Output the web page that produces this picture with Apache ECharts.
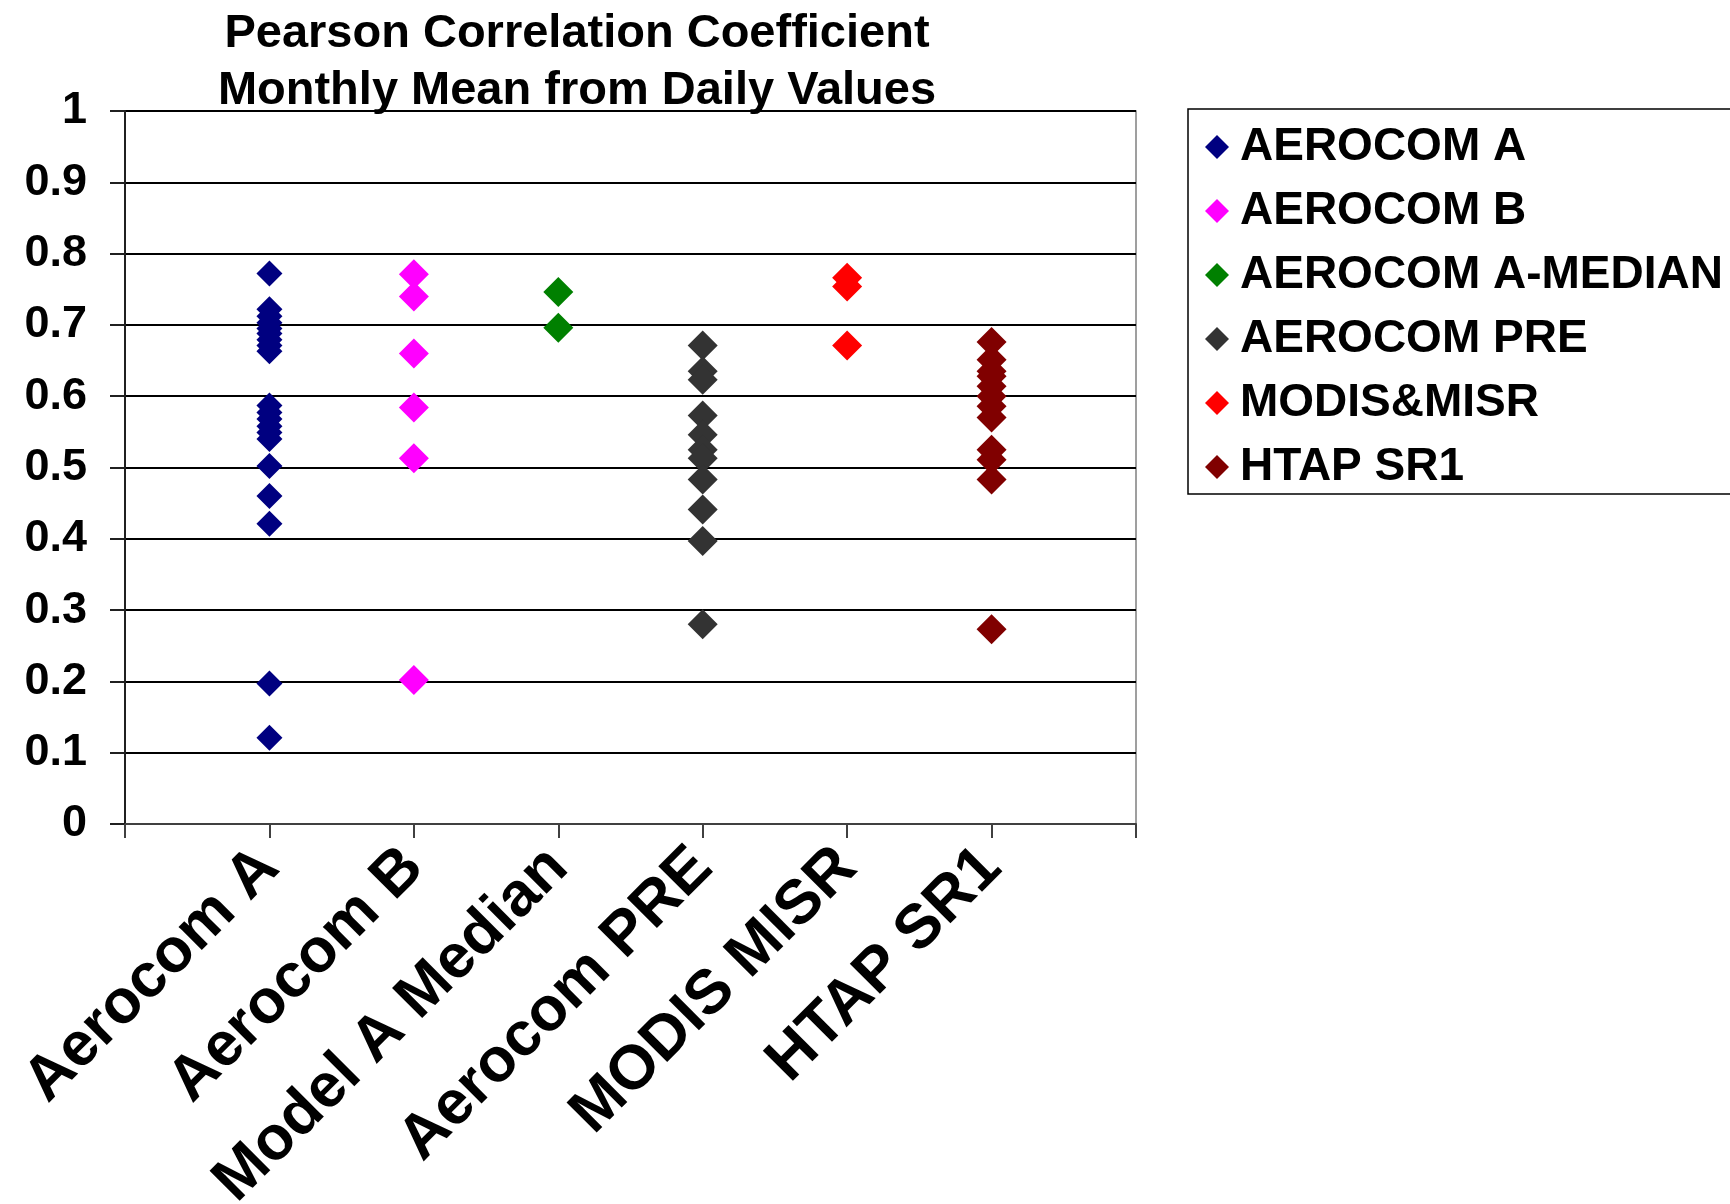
<!DOCTYPE html>
<html>
<head>
<meta charset="utf-8">
<script src="https://cdn.jsdelivr.net/npm/echarts@6/dist/echarts.min.js"></script>
<style>
html,body{margin:0;padding:0;background:#fff;}
#chart{width:1730px;height:1204px;}
</style>
</head>
<body>
<div id="chart"></div>
<script>
// categories on the x axis (placed at positions 1..6)
var categories = ['Aerocom A', 'Aerocom B', 'Model A Median', 'Aerocom PRE', 'MODIS MISR', 'HTAP SR1'];
// legend / series names
var seriesNames = ['AEROCOM A', 'AEROCOM B', 'AEROCOM A-MEDIAN', 'AEROCOM PRE', 'MODIS&MISR', 'HTAP SR1'];
// values
var aerocomA = [0.772, 0.722, 0.712, 0.703, 0.695, 0.688, 0.679, 0.671, 0.663, 0.587, 0.577, 0.568, 0.558, 0.549, 0.540, 0.502, 0.460, 0.421, 0.197, 0.121];
var aerocomB = [0.771, 0.740, 0.660, 0.584, 0.513, 0.202];
var aerocomAMedian = [0.746, 0.696];
var aerocomPre = [0.671, 0.635, 0.623, 0.573, 0.546, 0.525, 0.513, 0.483, 0.441, 0.397, 0.280];
var modisMisr = [0.766, 0.754, 0.671];
var htapSr1 = [0.676, 0.651, 0.635, 0.628, 0.614, 0.600, 0.586, 0.570, 0.525, 0.511, 0.483, 0.273];
var yTicks = [0, 0.1, 0.2, 0.3, 0.4, 0.5, 0.6, 0.7, 0.8, 0.9, 1];

var valueSets = [aerocomA, aerocomB, aerocomAMedian, aerocomPre, modisMisr, htapSr1];
var colors = ['#000080', '#FF00FF', '#008000', '#333333', '#FF0000', '#800000'];
var sizes = [26, 30, 30, 30, 30, 30];
var FONT = '"Liberation Sans", Arial, sans-serif';

var series = valueSets.map(function (vals, i) {
  return {
    name: seriesNames[i],
    type: 'scatter',
    symbol: 'diamond',
    symbolSize: sizes[i],
    itemStyle: { color: colors[i], opacity: 1 },
    data: vals.map(function (v) { return [i + 1, v]; }),
    z: 3
  };
});

var chart = echarts.init(document.getElementById('chart'), null, { renderer: 'canvas' });
chart.setOption({
  animation: false,
  backgroundColor: '#ffffff',
  title: {
    text: 'Pearson Correlation Coefficient\nMonthly Mean from Daily Values',
    left: 572,
    top: 1,
    textAlign: 'center',
    textStyle: { fontFamily: FONT, fontWeight: 'bold', fontSize: 47, lineHeight: 57, color: '#000' }
  },
  legend: {
    orient: 'vertical',
    left: 1188,
    top: 109,
    padding: [13, 600, 2, 17],
    itemGap: 14,
    itemWidth: 24,
    itemHeight: 24,
    icon: 'diamond',
    borderColor: '#000',
    borderWidth: 1.5,
    textStyle: { fontFamily: FONT, fontWeight: 'bold', fontSize: 46, lineHeight: 50, color: '#000', padding: [0, 0, 0, 6] },
    data: seriesNames
  },
  grid: {
    left: 125, right: 594, top: 111, bottom: 380,
    outerBoundsMode: 'none',
    containLabel: false,
    show: true, borderColor: '#808080', borderWidth: 1.5, backgroundColor: '#fff'
  },
  xAxis: {
    type: 'value',
    min: 0, max: 7, interval: 1,
    axisLine: { show: true, onZero: false, lineStyle: { color: '#404040', width: 2 } },
    axisTick: { show: true, inside: false, length: 14, lineStyle: { color: '#404040', width: 2 } },
    splitLine: { show: false },
    axisLabel: {
      rotate: 45,
      margin: 34,
      hideOverlap: false,
      fontFamily: FONT, fontWeight: 'bold', fontSize: 62, color: '#000',
      formatter: function (v) { return categories[v - 1] || ''; }
    }
  },
  yAxis: {
    type: 'value',
    min: 0, max: 1, interval: 0.1,
    axisLine: { show: true, lineStyle: { color: '#202020', width: 2 } },
    axisTick: { show: true, inside: false, length: 15, lineStyle: { color: '#202020', width: 2 } },
    splitLine: { show: true, lineStyle: { color: '#000', width: 2 } },
    axisLabel: {
      margin: 38,
      fontFamily: FONT, fontWeight: 'bold', fontSize: 45, color: '#000',
      formatter: function (v) { return String(Math.round(v * 10) / 10); }
    }
  },
  series: series
});
</script>
</body>
</html>
